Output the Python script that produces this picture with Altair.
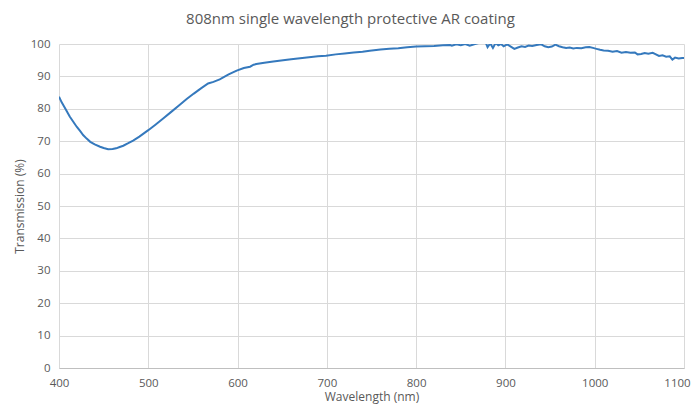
import altair as alt
import pandas as pd

wavelength = [400, 403, 407, 412, 416, 420, 424, 427, 431, 435, 440, 446, 450, 455, 460, 464, 468, 472, 477, 483,
              490, 495, 500, 508, 517, 525, 535, 543, 551, 559, 567, 573, 580, 590, 599, 607, 614, 618, 621, 630,
              640, 651, 660, 670, 680, 690, 699, 710, 720, 730, 740, 748, 760, 770, 780, 790, 800, 810, 820, 830,
              838, 840, 845, 850, 855, 860, 865, 870, 875, 878, 880, 883, 886, 889, 892, 895, 898, 902, 906, 910,
              914, 918, 922, 926, 930, 935, 940, 944, 948, 952, 956, 960, 964, 968, 972, 976, 980, 985, 990, 994,
              998, 1002, 1006, 1010, 1015, 1020, 1025, 1030, 1035, 1040, 1045, 1048, 1052, 1056, 1060, 1065, 1068,
              1072, 1076, 1080, 1084, 1087, 1090, 1094, 1098, 1100]
transmission = [83.7, 82.0, 80.1, 77.6, 76.0, 74.4, 73.0, 71.9, 70.8, 69.8, 69.0, 68.3, 67.9, 67.5, 67.6, 67.8, 68.2, 68.6, 69.3, 70.2,
                71.4, 72.4, 73.4, 75.1, 77.1, 78.9, 81.2, 83.0, 84.7, 86.3, 87.8, 88.3, 89.1, 90.6, 91.8, 92.6, 93.0, 93.6, 93.8, 94.2,
                94.6, 95.0, 95.3, 95.6, 95.9, 96.2, 96.4, 96.8, 97.1, 97.4, 97.6, 97.9, 98.3, 98.5, 98.7, 99.0, 99.2, 99.3, 99.4, 99.6,
                99.7, 99.5, 99.9, 99.6, 100.0, 99.5, 99.9, 100.3, 100.5, 100.4, 99.0, 100.2, 98.8, 100.3, 99.6, 100.0, 99.3, 99.9, 99.2, 98.5,
                98.9, 99.3, 99.1, 99.5, 99.4, 99.7, 99.9, 99.3, 99.0, 99.2, 99.8, 99.3, 99.0, 98.8, 98.9, 98.6, 98.8, 98.7, 99.0, 99.1,
                98.8, 98.5, 98.2, 98.0, 97.9, 97.6, 97.8, 97.3, 97.5, 97.3, 97.4, 96.8, 96.9, 97.2, 97.0, 97.3, 96.9,
                96.3, 96.5, 96.1, 96.2, 95.2, 95.8, 95.5, 95.7, 95.7]

x_ticks = [400, 500, 600, 700, 800, 900, 1000, 1100]
y_ticks = [0, 10, 20, 30, 40, 50, 60, 70, 80, 90, 100]

df = pd.DataFrame({"wl": wavelength, "T": transmission})

FONT = "Open Sans"
GRAY = "#595959"

chart = alt.Chart(df).mark_line(color="#3579BD", strokeWidth=2, clip=True).encode(
    x=alt.X("wl:Q", scale=alt.Scale(domain=[400, 1100], nice=False),
            axis=alt.Axis(values=x_ticks, title="Wavelength (nm)", format="d",
                          labelPadding=9, titlePadding=3, ticks=False, labelFlush=False,
                          labelOffset={"condition": {"test": "datum.value == 1100", "value": -7}, "value": 0},
                          domainColor="#BFBFBF", gridColor="#D9D9D9")),
    y=alt.Y("T:Q", scale=alt.Scale(domain=[0, 100], nice=False),
            axis=alt.Axis(values=y_ticks, title="Transmission (%)",
                          labelPadding=9, titlePadding=4, ticks=False, domain=False,
                          labelFlush=False, gridColor="#D9D9D9")),
).properties(
    width=625, height=324,
    padding={"left": 51, "top": 36, "right": 8, "bottom": 41},
    autosize=alt.AutoSizeParams(type="none"),
    title=alt.Title("808nm single wavelength protective AR coating", fontSize=15,
                    font=FONT, fontWeight="normal", color=GRAY, dx=-21, offset=11),
).configure_axis(
    labelFont=FONT, labelFontSize=11.5, labelColor=GRAY,
    titleFont=FONT, titleFontSize=12, titleColor=GRAY, titleFontWeight="normal",
).configure_view(stroke=None)

chart.save("out.html", embed_options={"renderer": "svg", "actions": False})
